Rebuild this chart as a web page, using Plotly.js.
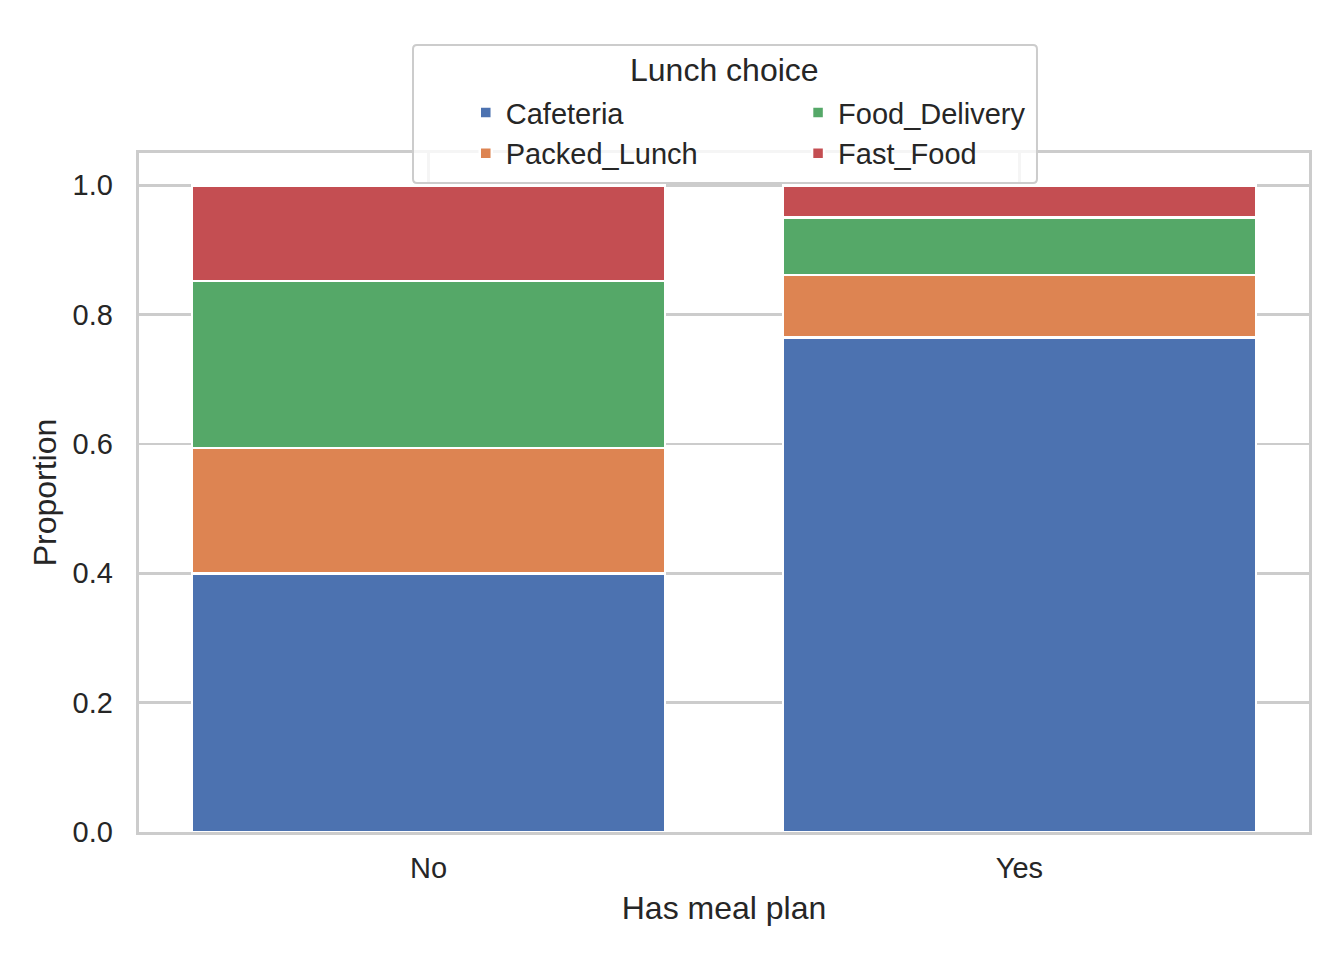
<!DOCTYPE html>
<html>
<head>
<meta charset="utf-8">
<script src="https://cdn.plot.ly/plotly-3.0.1.min.js"></script>
<style>
  body { margin: 0; background: #fff; }
  #graph { width: 1344px; height: 960px; }
</style>
</head>
<body>
<div id="graph"></div>
<script>
// share of each lunch choice, split by meal plan
const mealPlan = ['No', 'Yes'];
const cafeteria = [0.400, 0.765];
const packedLunch = [0.194, 0.096];
const foodDelivery = [0.258, 0.089];
const fastFood = [0.148, 0.050];
const yTicks = [0, 0.2, 0.4, 0.6, 0.8, 1.0];

const textColor = '#262626';
const gridColor = '#cccccc';
const fontFamily = '"Liberation Sans", Arial, sans-serif';

function barTrace(name, values, color, legendId){
    return {
        x: mealPlan,
        y: values,
        name: name,
        type: 'bar',
        width: 0.8,
        legend: legendId,
        marker: {
            color: color,
            line: { color: 'white', width: 2.5 }
        }
    };
}

// stacking order: cafeteria at the bottom, fast food on top
const traces = [
    barTrace('Cafeteria', cafeteria, '#4C72B0', 'legend'),
    barTrace('Packed_Lunch', packedLunch, '#DD8452', 'legend'),
    barTrace('Food_Delivery', foodDelivery, '#55A868', 'legend2'),
    barTrace('Fast_Food', fastFood, '#C44E52', 'legend2'),
];

const legendStyle = {
    orientation: 'v',
    yanchor: 'top',
    xanchor: 'left',
    y: 1.097,
    bgcolor: 'rgba(0,0,0,0)',
    borderwidth: 0,
    traceorder: 'normal',
    font: { family: fontFamily, size: 29, color: textColor }
};

const layout = {
    width: 1344,
    height: 960,
    margin: { l: 139, r: 35, t: 153, b: 128 },
    paper_bgcolor: 'white',
    plot_bgcolor: 'white',
    barmode: 'stack',
    font: { family: fontFamily, size: 29, color: textColor },
    xaxis: {
        range: [-0.49, 1.49],
        showgrid: true,
        gridcolor: gridColor,
        gridwidth: 2.7,
        showline: true,
        linecolor: gridColor,
        linewidth: 3.3,
        mirror: true,
        zeroline: false,
        ticks: '',
        ticklabelstandoff: 8,
        tickfont: { size: 29 },
        title: { text: 'Has meal plan', font: { size: 32 }, standoff: 14 }
    },
    yaxis: {
        range: [0, 1.05],
        tickvals: yTicks,
        tickformat: '.1f',
        showgrid: true,
        gridcolor: gridColor,
        gridwidth: 2.7,
        showline: true,
        linecolor: gridColor,
        linewidth: 3.3,
        mirror: true,
        zeroline: false,
        ticks: '',
        ticklabelstandoff: 17,
        tickfont: { size: 29 },
        title: { text: 'Proportion', font: { size: 32 }, standoff: 7 }
    },
    legend: Object.assign({}, legendStyle, { x: 0.2793 }),
    legend2: Object.assign({}, legendStyle, { x: 0.5633 }),
    // legend frame and title, drawn like a single two-column legend box
    shapes: [{
        type: 'path',
        xref: 'paper', yref: 'paper',
        path: 'M0.2376,0.9558 L0.7641,0.9558 Q0.7675,0.9558 0.7675,0.9617 ' +
              'L0.7675,1.1532 Q0.7675,1.1591 0.7641,1.1591 ' +
              'L0.2376,1.1591 Q0.2342,1.1591 0.2342,1.1532 ' +
              'L0.2342,0.9617 Q0.2342,0.9558 0.2376,0.9558 Z',
        fillcolor: 'rgba(255,255,255,0.8)',
        line: { color: gridColor, width: 2 },
        layer: 'above'
    }],
    annotations: [{
        text: 'Lunch choice',
        xref: 'paper', yref: 'paper',
        x: 0.5, y: 1.1222,
        xanchor: 'center', yanchor: 'middle',
        showarrow: false,
        font: { size: 32, color: textColor }
    }],
    showlegend: true
};

Plotly.newPlot('graph', traces, layout, { displayModeBar: false, staticPlot: true });
</script>
</body>
</html>
